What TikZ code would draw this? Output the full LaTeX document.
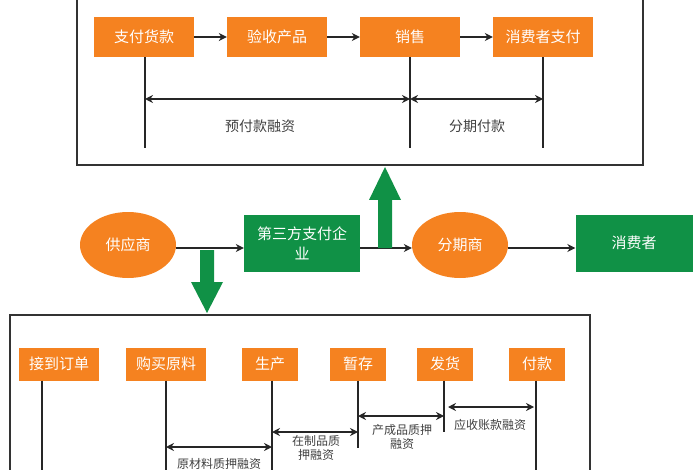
\documentclass[tikz,border=0pt]{standalone}
\usepackage{fontspec}
\usetikzlibrary{shapes.geometric,arrows.meta}
\setmainfont{Noto Sans CJK SC}
\begin{document}
\begin{tikzpicture}[x=1pt,y=-1pt,
 ob/.style={text=white,inner sep=0pt,font=\fontsize{15}{16}\selectfont},
 gb/.style={text=white,inner sep=0pt,font=\fontsize{15}{20}\selectfont,align=center},
 lab/.style={font=\fontsize{12}{14}\selectfont,text=black!75,align=center},
 ln/.style={draw=black!85,line width=1.3pt},
 ar/.style={ln,-{Stealth[length=8pt,width=8pt]}},
 dar/.style={ln,{Stealth[length=8pt,width=8pt]}-{Stealth[length=8pt,width=8pt]}}]
\definecolor{og}{RGB}{245,130,32}\definecolor{gg}{RGB}{16,145,70}
\tikzset{ob/.append style={fill=og},gb/.append style={fill=gg},big/.style={fill=gg}}
\useasboundingbox (0,0) rectangle (700,470);
\draw[line width=1.3pt,black!80] (77,-5) rectangle (643,165);
\draw[line width=1.3pt,black!80] (10,315) rectangle (590,480);
\node[ob,minimum width=100,minimum height=40] (a1) at (144,37) {支付货款};
\node[ob,minimum width=100,minimum height=40] (a2) at (277,37) {验收产品};
\node[ob,minimum width=100,minimum height=40] (a3) at (410,37) {销售};
\node[ob,minimum width=100,minimum height=40] (a4) at (543,37) {消费者支付};
\draw[ar] (a1)--(a2); \draw[ar] (a2)--(a3); \draw[ar] (a3)--(a4);
\coordinate (t1) at (145,148); \coordinate (t3) at (410,148); \coordinate (t4) at (543,148);
\draw[ln] (a1.south-|t1)--(t1); \draw[ln] (a3.south-|t3)--(t3); \draw[ln] (a4.south-|t4)--(t4);
\coordinate (d1) at (145,99); \coordinate (d3) at (410,99); \coordinate (d4) at (543,99);
\draw[dar] (d1)--(d3); \draw[dar] (d3)--(d4);
\node[lab,font=\fontsize{14}{16}\selectfont] (l1) at (260,126) {预付款融资};
\node[lab,font=\fontsize{14}{16}\selectfont] (l2) at (477,126) {分期付款};
% middle
\node[ellipse,ob,minimum width=96,minimum height=66] (s) at (128,245) {供应商};
\node[gb,minimum width=116,minimum height=57] (t) at (302,243) {第三方支付企\\业};
\node[ellipse,ob,minimum width=96,minimum height=66] (f) at (460,245) {分期商};
\node[gb,minimum width=117,minimum height=57] (c) at (634,243) {消费者};
\draw[ar] (s.east|-0,248)--(t.west|-0,248);
\draw[ar] (t.east|-0,248)--(f.west|-0,248);
\draw[ar] (f.east|-0,248)--(c.west|-0,248);
\fill[big] (378,248)--(378,200)--(369,200)--(385,167)--(401,200)--(392,200)--(392,248)--cycle;
\fill[big] (200,250)--(200,282)--(191,282)--(207,313)--(223,282)--(214,282)--(214,250)--cycle;
% bottom
\node[ob,minimum width=80,minimum height=33] (b1) at (59,364) {接到订单};
\node[ob,minimum width=80,minimum height=33] (b2) at (166,364) {购买原料};
\node[ob,minimum width=56,minimum height=33] (b3) at (270,364) {生产};
\node[ob,minimum width=56,minimum height=33] (b4) at (358,364) {暂存};
\node[ob,minimum width=56,minimum height=33] (b5) at (445,364) {发货};
\node[ob,minimum width=56,minimum height=33] (b6) at (537,364) {付款};
\coordinate (e1) at (42,480); \coordinate (e2) at (166,480); \coordinate (e3) at (272,480);
\coordinate (e4) at (358,448); \coordinate (e5) at (444,432); \coordinate (e6) at (536,480);
\foreach \b/\e in {b1/e1,b2/e2,b3/e3,b4/e4,b5/e5,b6/e6} \draw[ln] (\b.south-|\e)--(\e);
\coordinate (p1) at (166,447); \coordinate (p2) at (272,447);
\coordinate (q1) at (272,432); \coordinate (q2) at (358,432);
\coordinate (r1) at (358,416); \coordinate (r2) at (444,416);
\coordinate (u1) at (448,407); \coordinate (u2) at (534,407);
\draw[dar] (p1)--(p2); \draw[dar] (q1)--(q2); \draw[dar] (r1)--(r2); \draw[dar] (u1)--(u2);
\node[lab] (m1) at (219,464) {原材料质押融资};
\node[lab,font=\fontsize{12}{13.5}\selectfont] (m2) at (316,448) {在制品质\\押融资};
\node[lab,font=\fontsize{12}{13.5}\selectfont] (m3) at (402,437) {产成品质押\\融资};
\node[lab] (m4) at (490,425) {应收账款融资};
\end{tikzpicture}
\end{document}
